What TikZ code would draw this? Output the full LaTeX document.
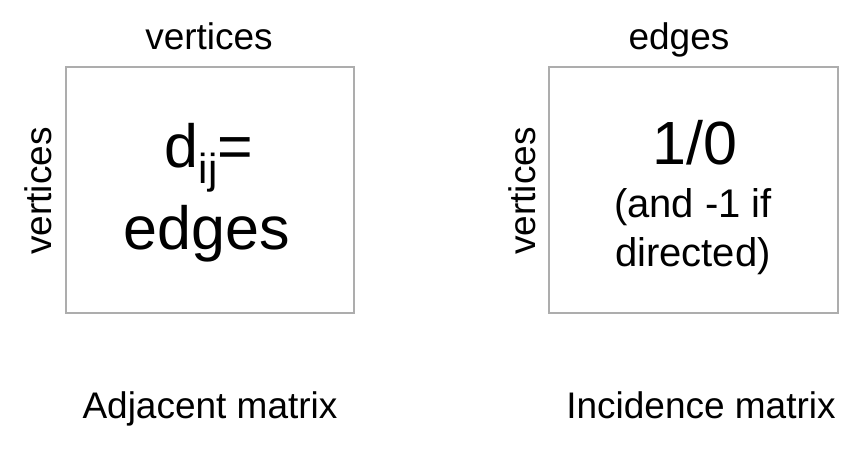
\documentclass[tikz,border=0pt]{standalone}
\usepackage{fontspec}
\setmainfont{Liberation Sans}
\begin{document}
\begin{tikzpicture}[x=1pt,y=-1pt,
  mbox/.style={draw=black!32,line width=1.6pt},
  lab/.style={anchor=base,inner sep=0pt,font=\fontsize{37}{44}\selectfont},
  big/.style={anchor=base,inner sep=0pt,font=\fontsize{61}{70}\selectfont},
  mid/.style={anchor=base,inner sep=0pt,font=\fontsize{40}{48}\selectfont}]
\useasboundingbox (0,0) rectangle (862,449);
% boxes
\draw[mbox] (66,67) rectangle (354,313);
\draw[mbox] (549,67) rectangle (838,313);
% adjacency matrix
\node[lab] (atop) at (209,50) {vertices};
\node[lab,rotate=90,anchor=center] (aleft) at (38,191) {vertices};
\node[big] (a1) at (209,168) {d\raisebox{-16pt}{\fontsize{42}{42}\selectfont ij}=};
\node[big] (a2) at (207,250) {edges};
\node[lab] (acap) at (210,418) {Adjacent matrix};
% incidence matrix
\node[lab] (itop) at (679,50) {edges};
\node[lab,rotate=90,anchor=center] (ileft) at (522,191) {vertices};
\node[big] (i1) at (695,165) {1/0};
\node[mid] (i2) at (693,218) {(and -1 if};
\node[mid] (i3) at (693,266) {directed)};
\node[lab] (icap) at (701,418) {Incidence matrix};
\end{tikzpicture}
\end{document}
